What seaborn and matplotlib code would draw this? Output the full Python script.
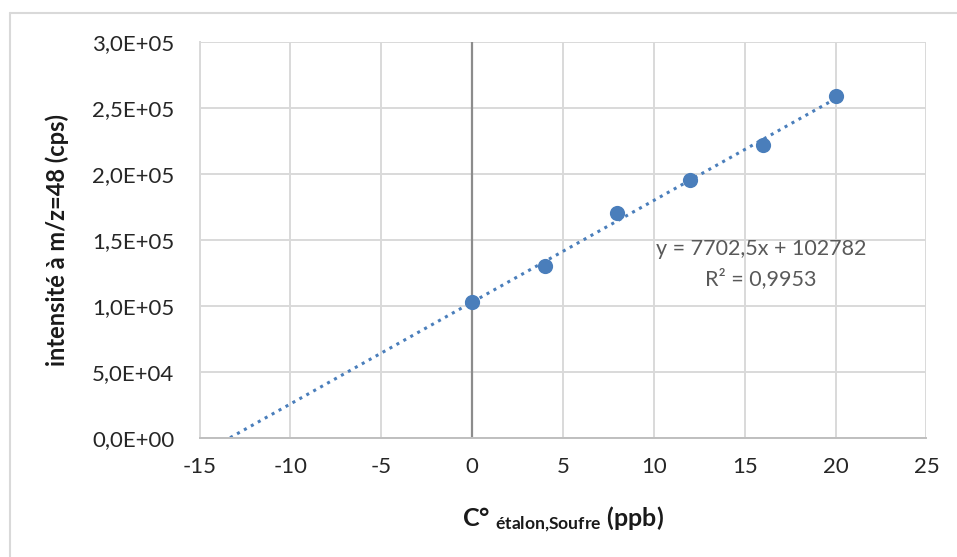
import numpy as np
import pandas as pd
import matplotlib
matplotlib.use("Agg")
import matplotlib.pyplot as plt
import seaborn as sns
from matplotlib.lines import Line2D

# Data
conc = [0, 4, 8, 12, 16, 20]
intensity = [102800, 129800, 170500, 195300, 221500, 258700]
x_ticks = [-15, -10, -5, 0, 5, 10, 15, 20, 25]
y_ticks = [0, 50000, 100000, 150000, 200000, 250000, 300000]
y_tick_labels = ["0,0E+00", "5,0E+04", "1,0E+05", "1,5E+05", "2,0E+05", "2,5E+05", "3,0E+05"]
eq_text = "y = 7702,5x + 102782"
r2_text = "R² = 0,9953"

sns.set_theme(style="white")
plt.rcParams["font.family"] = ["Lato", "DejaVu Sans"]
plt.rcParams["axes.unicode_minus"] = False
plt.rcParams["mathtext.default"] = "regular"

df = pd.DataFrame({"c": conc, "i": intensity})
blue = "#4a7ebb"

fig = plt.figure(figsize=(9.57, 5.57), dpi=100)
ax = fig.add_axes([0.2085, 0.2142, 0.968 - 0.2085, 0.925 - 0.2142])

ax.set_xlim(-15, 25)
ax.set_ylim(0, 300000)
ax.set_xticks(x_ticks)
ax.set_yticks(y_ticks)
ax.set_yticklabels(y_tick_labels)
ax.grid(True, color="#d9d9d9", lw=1.4)
ax.set_axisbelow(True)
for s in ["top", "right"]:
    ax.spines[s].set_visible(False)
ax.spines["left"].set_color("#d9d9d9")
ax.spines["left"].set_linewidth(1.4)
ax.spines["bottom"].set_color("#bfbfbf")
ax.spines["bottom"].set_linewidth(1.4)
ax.axvline(0, color="#8c8c8c", lw=1.6, zorder=1.5)

# trendline from fit
m, b = np.polyfit(df["c"], df["i"], 1)
x0 = -b / m
xs = np.array([x0, max(conc)])
ax.plot(xs, m * xs + b, color=blue, lw=2.2, linestyle=(0, (1, 1.6)), zorder=2)

sns.scatterplot(data=df, x="c", y="i", ax=ax, color=blue, s=120,
                edgecolor=blue, linewidth=0, zorder=3)

ax.tick_params(axis="both", length=0, labelsize=16, colors="#262626")
ax.tick_params(axis="x", pad=14)
ax.tick_params(axis="y", pad=18)

ax.set_ylabel("intensité à m/z=48 (cps)", fontsize=17, fontweight="bold",
              color="#1a1a1a", labelpad=17)
ax.set_xlabel(r"C° $_{\mathregular{étalon{,}Soufre}}$ (ppb)", fontsize=18,
              fontweight="bold", color="#1a1a1a", labelpad=20)

ax.text(15.9, 143000, eq_text, ha="center", va="center", fontsize=15.5, color="#595959")
ax.text(15.9, 120500, r2_text, ha="center", va="center", fontsize=15.5, color="#595959")

# outer chart border (top and left visible)
fig.add_artist(Line2D([10 / 957, 1], [1 - 12.7 / 557, 1 - 12.7 / 557],
                      transform=fig.transFigure, color="#d9d9d9", lw=1.5))
fig.add_artist(Line2D([10 / 957, 10 / 957], [0, 1 - 12.7 / 557],
                      transform=fig.transFigure, color="#d9d9d9", lw=1.5))

fig.savefig("out.png", dpi=100)
